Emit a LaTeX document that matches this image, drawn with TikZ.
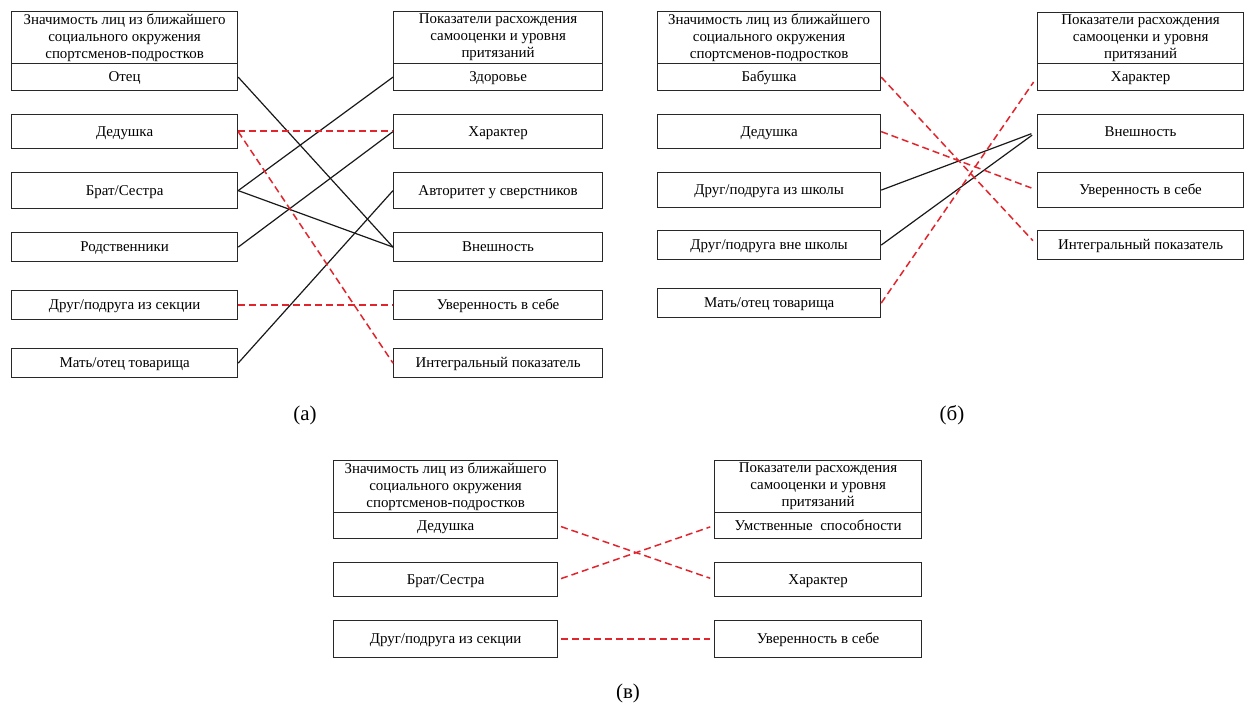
\documentclass[tikz,border=0pt]{standalone}
\usepackage{fontspec}
\setmainfont{Liberation Serif}
\definecolor{lred}{RGB}{226,36,44}
\definecolor{boxline}{RGB}{40,40,40}
\begin{document}
\begin{tikzpicture}[x=1bp,y=-1bp,
  cell/.style={draw=boxline, line width=1.2bp, inner sep=0pt, anchor=north west, align=center, font=\fontsize{15}{17}\selectfont},
  itm/.style={cell, text height=11bp, text depth=2bp},
  conn/.style={line width=1.2bp, black!90},
  rdash/.style={line width=1.5bp, lred, dash pattern=on 7bp off 4bp},
  caption/.style={font=\fontsize{21}{25}\selectfont}
]
\useasboundingbox[fill=white] (0,0) rectangle (1247,709);

% ---------- panel (a) ----------
\node[cell, minimum width=226bp, minimum height=52bp] (aH) at (11,11) {Значимость лиц из ближайшего\\социального окружения\\спортсменов-подростков};
\node[itm, minimum width=226bp, minimum height=27bp] (a1) at (11,63) {Отец};
\node[itm, minimum width=226bp, minimum height=34bp] (a2) at (11,114) {Дедушка};
\node[itm, minimum width=226bp, minimum height=36bp] (a3) at (11,172) {Брат/Сестра};
\node[itm, minimum width=226bp, minimum height=29bp] (a4) at (11,232) {Родственники};
\node[itm, minimum width=226bp, minimum height=29bp] (a5) at (11,290) {Друг/подруга из секции};
\node[itm, minimum width=226bp, minimum height=29bp] (a6) at (11,348) {Мать/отец товарища};

\node[cell, minimum width=209bp, minimum height=52bp] (bH) at (393,11) {Показатели расхождения\\самооценки и уровня\\притязаний};
\node[itm, minimum width=209bp, minimum height=27bp] (b1) at (393,63) {Здоровье};
\node[itm, minimum width=209bp, minimum height=34bp] (b2) at (393,114) {Характер};
\node[itm, minimum width=209bp, minimum height=36bp] (b3) at (393,172) {Авторитет у сверстников};
\node[itm, minimum width=209bp, minimum height=29bp] (b4) at (393,232) {Внешность};
\node[itm, minimum width=209bp, minimum height=29bp] (b5) at (393,290) {Уверенность в себе};
\node[itm, minimum width=209bp, minimum height=29bp] (b6) at (393,348) {Интегральный показатель};

\draw[conn] (a1.east) -- (b4.west);
\draw[conn] (a3.east) -- (b1.west);
\draw[conn] (a3.east) -- (b4.west);
\draw[conn] (a4.east) -- (b2.west);
\draw[conn] (a6.east) -- (b3.west);
\draw[rdash] ([yshift=0.5bp]a2.east) -- ([yshift=0.5bp]b2.west);
\draw[rdash] (a2.east) -- (b6.west);
\draw[rdash] (a5.east) -- (b5.west);

\node[caption] (la) at (305,415) {(а)};

% ---------- panel (b) ----------
\node[cell, minimum width=223bp, minimum height=52bp] (cH) at (657,11) {Значимость лиц из ближайшего\\социального окружения\\спортсменов-подростков};
\node[itm, minimum width=223bp, minimum height=27bp] (c1) at (657,63) {Бабушка};
\node[itm, minimum width=223bp, minimum height=34bp] (c2) at (657,114) {Дедушка};
\node[itm, minimum width=223bp, minimum height=35bp] (c3) at (657,172) {Друг/подруга из школы};
\node[itm, minimum width=223bp, minimum height=29bp] (c4) at (657,230) {Друг/подруга вне школы};
\node[itm, minimum width=223bp, minimum height=29bp] (c5) at (657,288) {Мать/отец товарища};

\node[cell, minimum width=206bp, minimum height=51bp] (dH) at (1037,12) {Показатели расхождения\\самооценки и уровня\\притязаний};
\node[itm, minimum width=206bp, minimum height=27bp] (d1) at (1037,63) {Характер};
\node[itm, minimum width=206bp, minimum height=34bp] (d2) at (1037,114) {Внешность};
\node[itm, minimum width=206bp, minimum height=35bp] (d3) at (1037,172) {Уверенность в себе};
\node[itm, minimum width=206bp, minimum height=29bp] (d4) at (1037,230) {Интегральный показатель};

\draw[conn, shorten >=6bp] (c3.east) -- (d2.west);
\draw[conn, shorten >=6bp] (c4.east) -- (d2.west);
\draw[rdash, shorten >=6bp] (c1.east) -- (d4.west);
\draw[rdash, shorten >=6bp] (c2.east) -- (d3.west);
\draw[rdash, shorten >=6bp] (c5.east) -- (d1.west);

\node[caption] (lb) at (952,415) {(б)};

% ---------- panel (v) ----------
\node[cell, minimum width=224bp, minimum height=52bp] (eH) at (333,460) {Значимость лиц из ближайшего\\социального окружения\\спортсменов-подростков};
\node[itm, minimum width=224bp, minimum height=26bp] (e1) at (333,512) {Дедушка};
\node[itm, minimum width=224bp, minimum height=34bp] (e2) at (333,562) {Брат/Сестра};
\node[itm, minimum width=224bp, minimum height=37bp] (e3) at (333,620) {Друг/подруга из секции};

\node[cell, minimum width=207bp, minimum height=52bp] (fH) at (714,460) {Показатели расхождения\\самооценки и уровня\\притязаний};
\node[itm, minimum width=207bp, minimum height=26bp] (f1) at (714,512) {Умственные\ \ способности};
\node[itm, minimum width=207bp, minimum height=34bp] (f2) at (714,562) {Характер};
\node[itm, minimum width=207bp, minimum height=37bp] (f3) at (714,620) {Уверенность в себе};

\draw[rdash, shorten <=3bp, shorten >=4bp] (e1.east) -- (f2.west);
\draw[rdash, shorten <=3bp, shorten >=4bp] (e2.east) -- (f1.west);
\draw[rdash, shorten <=3bp, shorten >=4bp] (e3.east) -- (f3.west);

\node[caption] (lc) at (628,693) {(в)};
\end{tikzpicture}
\end{document}
